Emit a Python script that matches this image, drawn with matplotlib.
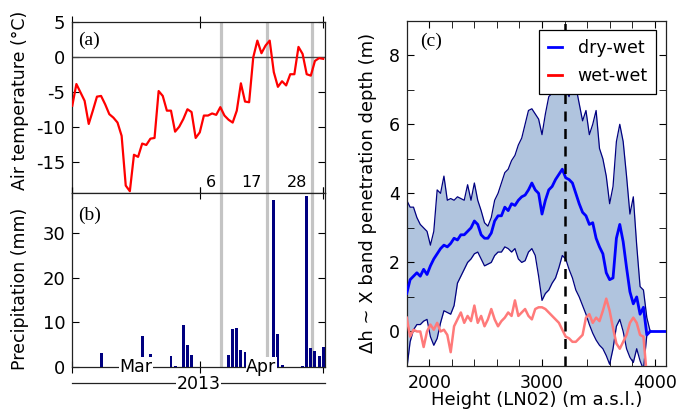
import numpy as np
import matplotlib
matplotlib.use("Agg")
import matplotlib.pyplot as plt
from matplotlib.lines import Line2D
from matplotlib.ticker import MultipleLocator

plt.rcParams['font.family'] = ['DejaVu Sans']
plt.rcParams['axes.unicode_minus'] = False

# ---------------- data: panels (a)/(b) ----------------
# day index: 0 = 1 March 2013
temp_days = list(range(62))
air_temp = [-7.0, -3.9, -5.1, -6.3, -9.6, -7.7, -5.7, -5.6, -6.8, -8.2,
            -8.7, -9.4, -11.3, -18.4, -19.2, -14.0, -14.3, -12.4, -12.6, -11.7,
            -11.6, -4.9, -5.6, -7.7, -7.7, -10.7, -10.0, -8.9, -7.5, -7.9,
            -11.6, -10.8, -8.4, -8.4, -8.1, -8.3, -7.2, -8.4, -9.0, -9.4,
            -7.7, -3.8, -6.4, -6.5, -0.1, 2.3, 0.5, 1.6, 2.3, -2.2,
            -4.3, -3.5, -4.1, -2.5, -2.5, 1.4, 0.4, -2.5, -2.7, -0.6,
            -0.2, -0.3]

precip_days = [7, 17, 18, 19, 24, 25, 27, 28, 29, 38, 39, 40, 41, 42,
               49, 50, 51, 56, 57, 58, 59, 60, 61]
precip_mm = [3.0, 6.9, 1.9, 2.8, 2.4, 0.2, 9.4, 4.9, 2.6, 2.6, 8.4, 8.8, 3.8, 3.3,
             37.4, 7.4, 0.4, 0.2, 38.5, 4.1, 3.6, 2.5, 4.4]

event_days = [36.2, 47.3, 58.4]
event_labels = ['6', '17', '28']
month_start_days = [0, 31, 61]
month_mid_days = [15.5, 46]
month_labels = ['Mar', 'Apr']
year_label = '2013'

# ---------------- data: panel (c) ----------------
heights = list(range(1800, 3961, 30))
upper = [3.8, 3.6, 3.6, 3.3, 3.1, 3.0, 2.9, 2.5, 2.9, 4.1,
         4.0, 4.5, 3.8, 3.85, 3.8, 3.9, 3.85, 3.8, 4.25, 3.8,
         4.3, 3.8, 3.5, 3.15, 3.05, 3.3, 3.8, 4.0, 4.3, 4.6,
         4.7, 4.95, 5.1, 5.4, 5.6, 6.0, 6.4, 6.45, 6.3, 6.15,
         5.7, 6.3, 6.8, 6.9, 7.0, 7.3, 7.35, 7.0, 6.8, 7.2,
         7.1, 6.6, 6.1, 6.4, 5.7, 6.0, 6.4, 5.3, 5.0, 4.5,
         3.7, 4.2, 5.5, 6.0, 5.5, 4.5, 3.4, 3.9, 2.5, 1.3,
         1.2, 0.4, 0.0]
mean_dw = [1.1, 1.5, 1.6, 1.7, 1.6, 1.8, 1.65, 1.9, 2.1, 2.25,
           2.4, 2.5, 2.45, 2.55, 2.7, 2.65, 2.8, 2.8, 2.9, 3.0,
           3.2, 3.1, 2.8, 2.7, 2.7, 2.85, 3.2, 3.35, 3.35, 3.6,
           3.5, 3.7, 3.65, 3.8, 3.9, 3.95, 4.1, 4.3, 4.1, 4.0,
           3.4, 3.8, 4.1, 4.2, 4.4, 4.55, 4.7, 4.45, 4.4, 4.3,
           4.0, 3.7, 3.45, 3.35, 3.1, 3.15, 2.7, 2.45, 2.25, 1.7,
           1.5, 1.55, 2.7, 3.1, 2.6, 1.85, 1.15, 0.8, 1.0, 0.5,
           0.7, -0.1, 0.0]
lower = [-1.1, -0.3, 0.05, 0.2, 0.2, 0.3, 0.35, -0.15, -0.4, -0.2,
         0.25, 0.6, 0.55, 0.5, 0.75, 1.4, 1.6, 1.8, 2.0, 2.1,
         2.25, 2.3, 2.1, 1.9, 1.95, 2.0, 2.2, 2.3, 2.3, 2.45,
         2.4, 2.3, 2.4, 2.1, 2.0, 2.05, 2.3, 2.4, 2.2, 1.6,
         0.9, 1.1, 1.2, 1.4, 1.55, 1.85, 2.2, 2.1, 1.8, 1.55,
         1.2, 1.0, 0.75, 0.5, 0.2, -0.05, -0.25, -0.4, -0.5, -0.7,
         -0.95, -0.5, 0.15, 0.35, 0.0, -0.5, -0.75, -0.9, -0.5, -0.85,
         -1.1, -0.1, 0.0]
wet_wet = [0.4, -0.15, 0.05, 0.0, 0.0, -0.45, 0.0, 0.2, 0.05, 0.25,
           0.0, 0.05, -0.1, -0.6, 0.15, 0.35, 0.55, 0.25, 0.45, 0.3,
           0.75, 0.25, 0.45, 0.15, 0.35, 0.65, 0.35, 0.15, 0.3, 0.4,
           0.55, 0.45, 0.9, 0.45, 0.55, 0.65, 0.45, 0.35, 0.65, 0.7,
           0.7, 0.65, 0.55, 0.45, 0.35, 0.25, 0.05, -0.15, -0.2, -0.3,
           -0.3, -0.2, -0.1, 0.4, 0.5, 0.25, 0.4, 0.3, 0.6, 0.95,
           0.6, 0.1, -0.35, -0.5, -0.3, -0.1, 0.25, 0.4, 0.25, -0.1,
           -0.15, -1.3, np.nan]
tail_heights = [3960, 4100]
tail_values = [0.0, 0.0]
ref_height = 3200

# ---------------- figure ----------------
fig = plt.figure(figsize=(6.78, 4.11), dpi=100)
axA = fig.add_axes([0.1066, 0.5297, 0.3727, 0.4175])
axB = fig.add_axes([0.1066, 0.1078, 0.3727, 0.4219], sharex=axA)
axC = fig.add_axes([0.5999, 0.1095, 0.3824, 0.8401])

grey = '#c4c4c4'
for ax in (axA, axB):
    for d in event_days:
        ax.axvline(d, color=grey, lw=2.3, zorder=1)
    for s in ax.spines.values():
        s.set_linewidth(0.9)
        s.set_color('#222222')

# (a) temperature
axA.axhline(0, color='#444444', lw=1.0, zorder=2)
axA.plot(temp_days, air_temp, color='red', lw=1.6, zorder=3)
axA.set_ylim(-19.5, 5)
axA.set_xlim(0, 61.44)
axA.yaxis.set_major_locator(MultipleLocator(5))
axA.set_ylabel('Air temperature (°C)', fontsize=12.5)
axA.yaxis.set_label_coords(-0.172, 0.54)
axA.text(0.023, 0.89, '(a)', transform=axA.transAxes, fontsize=14,
         family='Liberation Serif', va='center', ha='left')
for d, lab in zip(event_days, event_labels):
    axA.annotate(lab, xy=(d, -17.9), xytext=(-3.5, 0), textcoords='offset points',
                 ha='right', va='center', fontsize=11.5)

# (b) precipitation
axB.bar(precip_days, precip_mm, width=0.72, color='#000080', zorder=3)
axB.set_ylim(0, 39)
axB.yaxis.set_major_locator(MultipleLocator(10))
axB.set_ylabel('Precipitation (mm)', fontsize=12.5)
axB.yaxis.set_label_coords(-0.172, 0.45)
axB.text(0.023, 0.87, '(b)', transform=axB.transAxes, fontsize=14,
         family='Liberation Serif', va='center', ha='left')
for d, lab in zip(month_mid_days, month_labels):
    axB.text(d, 0, lab, ha='center', va='center', fontsize=12.5, zorder=5,
             bbox=dict(facecolor='white', edgecolor='none', pad=0.5), clip_on=False)

axB.set_xticks(month_start_days)
for ax in (axA, axB):
    ax.tick_params(axis='x', which='major', direction='inout', length=8,
                   top=True, bottom=True, labelbottom=False, labeltop=False)
    ax.tick_params(axis='y', direction='in', length=5, left=True, right=True,
                   labelsize=13, pad=5)

# year line and label
x0, x1 = 0.1066, 0.1066 + 0.3727
fig.add_artist(Line2D([x0, x1], [0.0674, 0.0674], color='#222222', lw=0.9,
                      transform=fig.transFigure))
fig.text((x0 + x1) / 2, 0.0655, year_label, ha='center', va='center', fontsize=12.5,
         bbox=dict(facecolor='white', edgecolor='none', pad=0.5))

# (c) penetration depth
axC.fill_between(heights, lower, upper, color='#b0c4de', lw=0, zorder=1)
axC.plot(heights, upper, color='#000080', lw=0.9, zorder=2)
axC.plot(heights, lower, color='#000080', lw=0.9, zorder=2)
axC.plot(heights, wet_wet, color='#ff7a7a', lw=1.8, zorder=3)
axC.plot(heights, mean_dw, color='blue', lw=2.0, zorder=4)
axC.plot(tail_heights, tail_values, color='blue', lw=2.0, zorder=4)
axC.axvline(ref_height, color='black', lw=1.8, ls=(0, (4, 3)), zorder=5)
axC.set_xlim(1800, 4100)
axC.set_ylim(-1, 9)
axC.xaxis.set_major_locator(MultipleLocator(1000))
axC.xaxis.set_minor_locator(MultipleLocator(200))
axC.yaxis.set_major_locator(MultipleLocator(2))
axC.yaxis.set_minor_locator(MultipleLocator(1))
axC.tick_params(which='both', direction='in', top=True, right=True, labelsize=12.5)
axC.tick_params(which='major', length=5)
axC.tick_params(which='minor', length=5)
axC.tick_params(axis='x', pad=6)
axC.tick_params(axis='y', pad=5)
for s in axC.spines.values():
    s.set_linewidth(0.9)
    s.set_color('#222222')
axC.set_xlabel('Height (LN02) (m a.s.l.)', fontsize=13)
axC.xaxis.set_label_coords(0.5, -0.072)
axC.set_ylabel('Δh ~ X band penetration depth (m)', fontsize=13)
axC.yaxis.set_label_coords(-0.115, 0.5)
axC.text(0.051, 0.94, '(c)', transform=axC.transAxes, fontsize=14,
         family='Liberation Serif', va='center', ha='left')
handles = [Line2D([], [], color='blue', lw=2), Line2D([], [], color='red', lw=2)]
leg = axC.legend(handles, ['dry-wet', 'wet-wet'], loc='upper right', fontsize=12.5,
                 fancybox=False, framealpha=1, edgecolor='black', handlelength=0.8,
                 borderaxespad=0.55, handletextpad=0.9, labelspacing=0.6,
                 borderpad=0.5)
leg.get_frame().set_linewidth(0.9)
leg.set_zorder(10)

fig.savefig('out.png', dpi=100)
